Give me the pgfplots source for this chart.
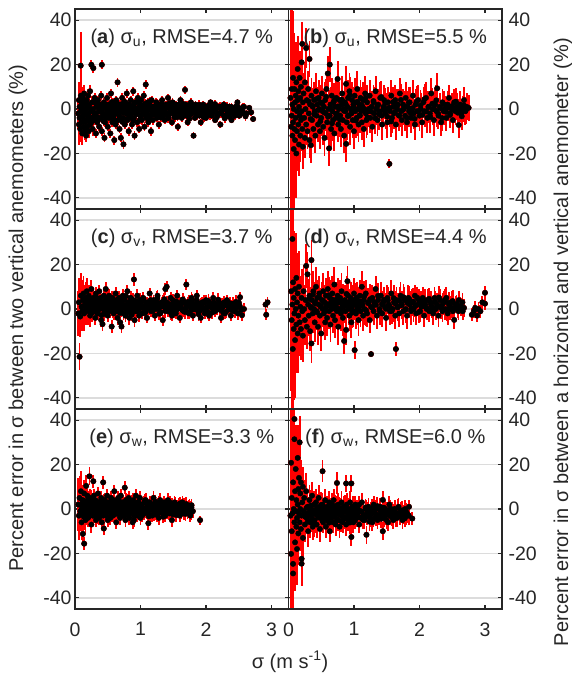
\documentclass[border=0pt]{standalone}
\usepackage{fontspec}
\setmainfont{Liberation Sans}
\setsansfont{Liberation Sans}
\usepackage{pgfplots}
\usepackage{pgfplotstable}
\pgfplotsset{compat=1.18}
\definecolor{frame}{RGB}{38,38,38}
\definecolor{gridc}{RGB}{220,220,220}
\newcommand{\fs}{\fontsize{20}{24}\selectfont}
\newcommand{\ft}{\fontsize{19.5}{23}\selectfont}

\pgfplotstableread[row sep=\\]{x y e\\
0.05 -2 7\\ 0.06 4 8\\ 0.06 -7 9\\ 0.07 1 8\\ 0.07 -4 7\\ 0.08 -9 6\\ 0.087 19.5 15\\ 0.09 6 6\\ 0.09 -1 6\\ 0.10 -6 5\\
0.10 3 6\\ 0.11 -11 5\\ 0.11 0 5\\ 0.12 -3 5\\ 0.12 5 5\\ 0.13 -8 4\\ 0.13 2 4\\ 0.14 -5 4\\ 0.14 7 4\\ 0.15 -1 4\\
0.15 -10 4\\ 0.16 3 4\\ 0.16 -6 4\\ 0.17 0 3\\ 0.17 -12 3\\ 0.18 4 3\\ 0.18 -3 3\\ 0.19 -8 3\\ 0.19 1 3\\ 0.20 -5 3\\
0.20 6 3\\ 0.21 -2 3\\ 0.21 -10 3\\ 0.22 2 3\\ 0.23 -7 3\\ 0.23 8 3\\ 0.24 -1 3\\ 0.25 19.9 2\\ 0.25 -4 3\\ 0.26 3 3\\
0.27 -9 3\\ 0.28 18.4 2\\ 0.28 0 3\\ 0.29 -5 2\\ 0.30 5 2\\ 0.31 -2 2\\ 0.32 -11 2\\ 0.33 1 2\\ 0.34 -6 2\\ 0.35 4 2\\
0.36 -1 2\\ 0.37 -8 2\\ 0.38 2 2\\ 0.39 -4 2\\ 0.40 6 2\\ 0.41 19.9 2\\ 0.41 -10 2\\ 0.42 0 2\\ 0.43 -3 2\\ 0.44 3 2\\
0.45 -13 2\\ 0.46 -6 2\\ 0.47 1 2\\ 0.48 -2 2\\ 0.49 5 2\\ 0.50 -8 2\\ 0.51 2 2\\ 0.52 -4 2\\ 0.53 0 2\\ 0.54 -11 2\\
0.55 7 2\\ 0.56 -1 2\\ 0.57 -6 2\\ 0.58 3 2\\ 0.59 -3 2\\ 0.60 -14 2\\ 0.61 1 2\\ 0.62 -7 2\\ 0.63 4 2\\ 0.64 -2 2\\
0.65 12 2\\ 0.66 -5 2\\ 0.67 0 2\\ 0.68 -9 2\\ 0.69 2 2\\ 0.70 -13 2\\ 0.71 -1 2\\ 0.72 5 2\\ 0.73 -4 2\\ 0.74 -15.9 2\\
0.75 1 2\\ 0.76 -7 2\\ 0.77 3 2\\ 0.78 -2 2\\ 0.79 7 2\\ 0.80 -5 2\\ 0.81 0 2\\ 0.82 -10 2\\ 0.83 2 2\\ 0.84 -3 2\\
0.85 4 2\\ 0.86 -1 2\\ 0.87 -7 2\\ 0.88 1 2\\ 0.89 8 2\\ 0.90 -4 2\\ 0.91 -12 2\\ 0.92 3 2\\ 0.93 -2 2\\ 0.94 0 2\\
0.95 -6 2\\ 0.96 5 2\\ 0.97 -1 2\\ 0.98 -9 2\\ 0.99 2 2\\ 1.00 -3 2\\ 1.01 4 2\\ 1.02 -5 2\\ 1.03 0 2\\ 1.04 -2 2\\
1.05 6 2\\ 1.06 -8 2\\ 1.07 1 2\\ 1.08 11 2\\ 1.09 -4 2\\ 1.10 -1 2\\ 1.11 3 2\\ 1.12 -6 2\\ 1.13 0 2\\ 1.14 2 2\\
1.15 -3 2\\ 1.16 -10 2\\ 1.17 4 2\\ 1.18 -1 2\\ 1.19 -5 2\\ 1.20 1 1.8\\ 1.22 -2 1.8\\ 1.24 3 1.8\\ 1.25 -4 1.8\\ 1.27 0 1.8\\
1.28 -7 1.8\\ 1.30 2 1.8\\ 1.31 -1 1.8\\ 1.33 4 1.8\\ 1.34 -3 1.8\\ 1.36 0 1.8\\ 1.37 -5 1.8\\ 1.39 2 1.8\\ 1.40 -2 1.8\\ 1.42 5 1.8\\
1.43 -4 1.8\\ 1.45 1 1.8\\ 1.46 -1 1.8\\ 1.48 -6 1.8\\ 1.49 3 1.8\\ 1.51 0 1.8\\ 1.52 -3 1.8\\ 1.54 2 1.8\\ 1.55 -1 1.8\\ 1.57 -8 1.8\\
1.58 1 1.8\\ 1.60 -2 1.8\\ 1.61 4 1.8\\ 1.63 -4 1.8\\ 1.64 0 1.8\\ 1.66 -1 1.8\\ 1.68 8.6 1.8\\ 1.69 2 1.8\\ 1.71 -3 1.8\\ 1.72 -6 1.8\\
1.74 1 1.8\\ 1.75 -1 1.8\\ 1.77 3 1.8\\ 1.78 -2 1.8\\ 1.80 0 1.8\\ 1.81 -12 1.5\\ 1.83 -4 1.5\\ 1.84 2 1.5\\ 1.86 -1 1.5\\ 1.88 1 1.5\\
1.90 -3 1.5\\ 1.92 -6 1.5\\ 1.94 0 1.5\\ 1.96 2 1.5\\ 1.98 -2 1.5\\ 2.00 -4 1.5\\ 2.02 1 1.5\\ 2.05 -1 1.5\\ 2.07 3 1.5\\ 2.09 -3 1.5\\
2.12 0 1.5\\ 2.14 -5 1.5\\ 2.17 1 1.5\\ 2.19 -2 1.5\\ 2.22 -7 1.5\\ 2.24 0 1.5\\ 2.27 2 1.5\\ 2.30 -3 1.5\\ 2.33 -1 1.5\\ 2.36 1 1.5\\
2.39 -5 1.5\\ 2.42 -2 1.5\\ 2.45 0 1.5\\ 2.48 3 1.5\\ 2.51 -3 1.5\\ 2.55 -1 1.5\\ 2.58 1 1.5\\ 2.62 -2 1.5\\ 2.66 0.5 1.5\\ 2.69 -1.5 1.5\\
2.72 -4.5 1.5\\
}\tA
\pgfplotstableread[row sep=\\]{x y e\\
0.153 -2.5 4\\ 0.187 1.5 3\\ 0.234 -4.5 3\\ 0.262 -0.5 3\\ 0.318 2.5 2\\ 0.342 -3.5 2\\ 0.377 0.5 2\\ 0.403 -1.5 2\\ 0.436 -5.5 2\\ 0.458 2.2 2\\
0.489 -0.8 2\\ 0.517 -3.2 2\\ 0.546 1.2 2\\ 0.583 -4.2 2\\ 0.607 -0.2 2\\ 0.639 2.8 2\\ 0.672 -2.8 2\\ 0.698 0.8 2\\ 0.724 -5.8 2\\ 0.753 3.2 2\\
0.787 -1.2 2\\ 0.812 1.8 2\\ 0.846 -3.8 2\\ 0.873 -0.3 2\\ 0.905 2.4 2\\ 0.937 -2.4 2\\ 0.968 0.6 2\\ 0.995 -4.6 2\\ 1.027 1.6 2\\ 1.053 -1.6 2\\
1.085 -3.4 2\\ 1.118 0.4 2\\ 1.143 3.4 2\\ 1.176 -2.1 2\\ 1.207 -0.7 2\\ 1.236 1.1 2\\ 1.262 -3.1 2\\ 1.295 -1.3 2\\ 1.323 2.1 2\\ 1.356 -2.6 2\\
1.384 0.2 2\\ 1.417 -4.1 2\\ 1.445 2.6 2\\ 1.474 -0.6 2\\ 1.506 -2.2 2\\ 1.535 1.4 2\\ 1.566 -3.6 2\\ 1.594 0.9 2\\ 1.627 -1.1 2\\ 1.652 2.3 2\\
1.687 -2.7 2\\ 1.716 0.3 2\\ 1.746 -4.4 2\\ 1.773 1.3 2\\ 1.806 -1.4 2\\ 1.837 0.7 2\\ 1.868 -2.9 2\\ 1.897 1.9 2\\ 1.926 -0.9 2\\ 1.957 -3.3 2\\
1.986 0.1 2\\ 2.016 -1.8 2\\ 2.047 1.7 2\\ 2.078 -2.3 2\\ 2.106 -0.4 2\\ 2.138 2.2 2\\ 2.165 -3.7 2\\ 2.196 0.6 2\\ 2.228 -1.9 2\\ 2.257 -0.2 2\\
2.287 -4.2 2\\ 2.318 1.2 2\\ 2.348 -2.4 2\\ 2.377 0.4 2\\ 2.408 -1.2 2\\ 2.437 -3.1 2\\ 2.467 1.4 2\\ 2.497 -0.7 2\\ 2.528 -2.2 2\\ 2.566 0.8 2\\
2.604 -3.3 2\\
0.214 0.8 3\\ 0.248 -6.2 3\\ 0.296 -2.8 2\\ 0.327 3.6 2\\ 0.356 -4.8 2\\ 0.392 -0.6 2\\ 0.421 1.9 2\\ 0.449 -2.4 2\\ 0.474 -4.1 2\\ 0.503 0.3 2\\
0.532 -1.9 2\\ 0.561 3.1 2\\ 0.594 -5.1 2\\ 0.622 -1.3 2\\ 0.654 0.9 2\\ 0.683 -3.9 2\\ 0.712 2.1 2\\ 0.741 -1.7 2\\ 0.768 -0.1 2\\ 0.798 -4.3 2\\
0.829 1.4 2\\ 0.858 -2.1 2\\ 0.889 -5.3 2\\ 0.918 0.2 2\\ 0.949 -1.1 2\\ 0.981 3.3 2\\ 1.012 -2.9 2\\ 1.041 -0.4 2\\ 1.072 2.4 2\\ 1.099 -1.8 2\\
1.131 -4.4 2\\ 1.162 1.0 2\\ 1.193 -2.6 2\\ 1.223 -0.2 2\\ 1.251 2.7 2\\ 1.281 -1.6 2\\ 1.311 -3.9 2\\ 1.341 0.7 2\\ 1.371 -1.0 2\\ 1.401 1.8 2\\
1.431 -2.9 2\\ 1.461 -0.3 2\\ 1.491 1.2 2\\ 1.521 -3.8 2\\ 1.551 -0.8 2\\ 1.581 1.9 2\\ 1.611 -2.0 2\\ 1.641 -3.3 2\\ 1.671 0.6 2\\ 1.701 -1.6 2\\
1.731 1.6 2\\ 1.761 -2.4 2\\ 1.791 -0.5 2\\ 1.821 0.9 2\\ 1.851 -2.2 2\\ 1.881 -0.6 2\\ 1.911 1.0 2\\ 1.941 -1.9 2\\ 1.971 -3.8 2\\ 2.001 0.5 2\\
2.031 -1.2 2\\ 2.061 -2.8 2\\ 2.091 0.8 2\\ 2.121 -1.5 2\\ 2.151 -0.2 2\\ 2.181 -2.7 2\\ 2.211 1.1 2\\ 2.241 -0.9 2\\ 2.271 -2.9 2\\ 2.301 0.2 2\\
2.331 -1.6 2\\ 2.361 -3.6 2\\ 2.391 0.9 2\\ 2.421 -0.4 2\\ 2.451 -1.9 2\\ 2.481 1.1 2\\ 2.511 -1.1 2\\ 2.541 0.3 2\\ 2.581 -1.8 2\\
}\tAc

\pgfplotstableread[row sep=\\]{x y e\\
0.03 5 50\\ 0.04 -8 45\\ 0.05 9 40\\ 0.05 -3 42\\ 0.06 -12 35\\ 0.06 2 38\\ 0.07 14 30\\ 0.07 -6 32\\ 0.08 0 28\\ 0.08 -18 30\\
0.09 9 25\\ 0.09 -9 26\\ 0.10 3 22\\ 0.10 -14 24\\ 0.11 6 20\\ 0.11 -4 22\\ 0.12 -20 20\\ 0.12 12 18\\ 0.13 -1 17\\ 0.13 -10 18\\
0.14 4 16\\ 0.14 18 15\\ 0.15 -7 15\\ 0.15 8 14\\ 0.16 -16 14\\ 0.16 1 13\\ 0.17 -3 13\\ 0.17 14 12\\ 0.18 -12 12\\ 0.18 5 12\\
0.19 -5 11\\ 0.19 10 11\\ 0.20 21 11\\ 0.20 -1 10\\ 0.21 29.3 10\\ 0.21 -9 10\\ 0.22 3 10\\ 0.22 -17 10\\ 0.23 7 9\\ 0.24 -4 9\\
0.25 12 9\\ 0.25 -13 9\\ 0.26 0 9\\ 0.27 27.4 9\\ 0.27 -7 9\\ 0.28 4 8\\ 0.29 -10 8\\ 0.30 9 8\\ 0.31 -2 8\\ 0.32 22.5 8\\
0.32 -14 8\\ 0.33 2 8\\ 0.34 -16.3 8\\ 0.35 6 8\\ 0.36 -5 8\\ 0.37 1 8\\ 0.38 -9 8\\ 0.39 4 8\\ 0.40 -1 8\\ 0.41 -12 8\\
0.42 8 8\\ 0.43 -3 8\\ 0.44 2 8\\ 0.45 -7 8\\ 0.46 5 8\\ 0.47 0 8\\ 0.48 -10 8\\ 0.49 3 8\\ 0.50 -4 8\\ 0.51 7 8\\
0.52 -1 8\\ 0.53 -8 8\\ 0.54 1 8\\ 0.55 -13 8\\ 0.56 4 8\\ 0.57 -2 8\\ 0.58 9 8\\ 0.59 -6 8\\ 0.60 16 8\\ 0.61 0 8\\
0.62 -17.7 8\\ 0.63 20 8\\ 0.63 -3 8\\ 0.64 2 8\\ 0.65 -9 8\\ 0.66 6 8\\ 0.67 -1 8\\ 0.68 -5 8\\ 0.69 3 8\\ 0.70 -11 8\\
0.71 1 8\\ 0.72 -4 8\\ 0.73 5 8\\ 0.74 -2 8\\ 0.75 13.5 8\\ 0.76 -7 8\\ 0.77 0 8\\ 0.78 4 8\\ 0.79 -3 8\\ 0.80 -9 8\\
0.81 2 8\\ 0.82 7 8\\ 0.83 -5 8\\ 0.84 0 8\\ 0.85 -12 8\\ 0.86 3 8\\ 0.87 -1 8\\ 0.88 11.3 8\\ 0.88 -15.7 8\\ 0.89 -6 8\\
0.90 1 8\\ 0.91 5 8\\ 0.92 -3 8\\ 0.93 8 8\\ 0.94 -8 8\\ 0.95 0 8\\ 0.96 -2 8\\ 0.97 4 8\\ 0.98 -5 8\\ 0.99 2 8\\
1.00 -10 8\\ 1.01 6 8\\ 1.02 -1 8\\ 1.03 3 8\\ 1.04 -4 8\\ 1.05 9 8\\ 1.06 0 8\\ 1.07 -7 8\\ 1.08 2 8\\ 1.09 -3 8\\
1.10 5 8\\ 1.11 -1 8\\ 1.12 -6 8\\ 1.13 1 8\\ 1.14 4 8\\ 1.15 -9 8\\ 1.16 0 8\\ 1.17 7 8\\ 1.18 -2 8\\ 1.19 -5 8\\
1.20 3 8\\ 1.22 -1 7\\ 1.24 6 7\\ 1.25 -4 7\\ 1.27 1 7\\ 1.28 -8 7\\ 1.30 3 7\\ 1.31 -2 7\\ 1.33 8 7\\ 1.34 0 7\\
1.36 -5 7\\ 1.37 2 7\\ 1.39 -1 7\\ 1.40 5 7\\ 1.42 -3 7\\ 1.43 -7 7\\ 1.45 1 7\\ 1.46 4 7\\ 1.48 -2 7\\ 1.49 0 7\\
1.51 -6 7\\ 1.52 3 7\\ 1.54 -24.7 2\\ 1.55 -1 7\\ 1.57 6 7\\ 1.58 -4 7\\ 1.60 1 7\\ 1.61 -2 7\\ 1.63 4 7\\ 1.64 -7 7\\
1.66 0 7\\ 1.67 2 7\\ 1.69 -3 7\\ 1.70 7 7\\ 1.72 -1 7\\ 1.73 -5 7\\ 1.75 2 7\\ 1.76 0 7\\ 1.78 -3 7\\ 1.79 5 7\\
1.81 -6 7\\ 1.82 1 7\\ 1.84 -1 7\\ 1.85 3 7\\ 1.87 -4 7\\ 1.88 0 7\\ 1.90 6 7\\ 1.91 -2 7\\ 1.93 -7 7\\ 1.94 2 7\\
1.96 -1 7\\ 1.98 4 7\\ 2.00 -3 7\\ 2.02 0 7\\ 2.04 -6 7\\ 2.06 3 7\\ 2.08 -1 7\\ 2.10 5 7\\ 2.12 -4 7\\ 2.14 1 7\\
2.16 -2 7\\ 2.18 7 7\\ 2.20 0 7\\ 2.22 -5 7\\ 2.24 2 7\\ 2.26 -1 7\\ 2.27 9.3 7\\ 2.29 -3 6\\ 2.31 1 6\\ 2.33 -6 6\\
2.35 3 6\\ 2.37 -1 6\\ 2.39 0 6\\ 2.41 -4 6\\ 2.43 2 6\\ 2.45 5 6\\ 2.47 -2 6\\ 2.49 0 6\\ 2.51 -5 6\\ 2.53 3 6\\
2.55 -1 6\\ 2.57 1 6\\ 2.60 -7.2 6\\ 2.62 2 6\\ 2.64 -2 6\\ 2.66 0 6\\ 2.68 4 6\\ 2.70 -1 6\\ 2.72 1 6\\ 2.75 0.5 6\\
}\tB
\pgfplotstableread[row sep=\\]{x y e\\
0.305 3.5 8\\ 0.338 -4.5 8\\ 0.366 1.5 8\\ 0.395 -2.5 8\\ 0.428 4.5 8\\ 0.455 -0.5 8\\ 0.487 -5.5 8\\ 0.514 2.5 8\\ 0.545 -1.5 8\\ 0.575 5.5 8\\
0.604 -3.5 8\\ 0.636 0.5 8\\ 0.664 -6.5 8\\ 0.696 3.8 8\\ 0.725 -2.2 8\\ 0.757 1.2 8\\ 0.784 -4.8 8\\ 0.815 4.2 8\\ 0.846 -0.8 8\\ 0.874 2.2 8\\
0.906 -3.2 8\\ 0.937 6.2 8\\ 0.965 -1.8 8\\ 0.996 0.8 8\\ 1.026 -5.2 8\\ 1.055 3.2 8\\ 1.087 -2.8 8\\ 1.116 1.8 8\\ 1.147 -0.2 8\\ 1.176 4.8 8\\
1.207 -3.8 8\\ 1.236 0.2 8\\ 1.266 -1.2 7\\ 1.297 3.6 7\\ 1.326 -4.2 7\\ 1.357 1.4 7\\ 1.386 -2.4 7\\ 1.417 5.4 7\\ 1.446 -0.6 7\\ 1.477 2.6 7\\
1.507 -3.4 7\\ 1.536 0.6 7\\ 1.567 -5.6 7\\ 1.596 3.1 7\\ 1.627 -1.4 7\\ 1.656 1.9 7\\ 1.686 -2.9 7\\ 1.716 4.1 7\\ 1.746 -0.4 7\\ 1.776 1.1 7\\
1.806 -3.9 7\\ 1.836 2.9 7\\ 1.866 -1.9 7\\ 1.896 0.4 7\\ 1.926 -4.4 7\\ 1.956 3.4 7\\ 1.986 -0.9 7\\ 2.016 1.6 7\\ 2.046 -2.6 7\\ 2.076 4.4 7\\
2.106 -1.1 7\\ 2.136 0.9 7\\ 2.166 -3.6 7\\ 2.196 2.4 7\\ 2.226 -0.1 7\\ 2.256 3.9 7\\ 2.286 -2.1 7\\ 2.316 0.3 7\\ 2.346 -4.1 6\\ 2.376 2.1 6\\
2.406 -1.3 6\\ 2.436 0.7 6\\ 2.466 -2.7 6\\ 2.496 1.3 6\\ 2.526 -0.3 6\\ 2.556 3.3 6\\ 2.586 -1.7 6\\ 2.616 0.1 6\\ 2.646 -3.3 6\\ 2.676 1.7 6\\
2.706 -0.7 6\\
}\tBc

\pgfplotstableread[row sep=\\]{x y e\\
0.05 -2 10\\ 0.06 3 11\\ 0.07 -21.5 6\\ 0.08 -3.4 9\\ 0.09 6 10\\ 0.10 1 10\\ 0.11 -1 9\\ 0.12 4 9\\ 0.13 7 8\\ 0.14 -2 8\\
0.15 2 8\\ 0.16 5 7\\ 0.17 0 7\\ 0.18 8 6\\ 0.19 3 6\\ 0.20 -1 6\\ 0.21 6 5\\ 0.22 1 5\\ 0.23 -3 5\\ 0.24 4 4\\
0.25 9 4\\ 0.26 2 4\\ 0.27 -1 4\\ 0.28 5 3\\ 0.29 0 3\\ 0.30 3 3\\ 0.31 -4 3\\ 0.32 7 3\\ 0.33 1 3\\ 0.34 4 3\\
0.35 -2 3\\ 0.36 2 3\\ 0.37 8 3\\ 0.38 0 3\\ 0.39 5 3\\ 0.40 -5 3\\ 0.41 3 3\\ 0.42 -6.8 3\\ 0.43 1 3\\ 0.44 6 3\\
0.45 -1 3\\ 0.46 3 3\\ 0.47 9 3\\ 0.48 0 3\\ 0.49 4 3\\ 0.50 -3 3\\ 0.51 2 3\\ 0.52 6 3\\ 0.53 -1 3\\ 0.54 3 3\\
0.55 0 3\\ 0.56 -7.9 3\\ 0.57 5 3\\ 0.58 1 3\\ 0.59 -2 3\\ 0.60 4 3\\ 0.61 2 3\\ 0.62 7 3\\ 0.63 -1 3\\ 0.64 3 3\\
0.65 -4 3\\ 0.66 1 3\\ 0.67 5 3\\ 0.68 0 3\\ 0.69 -6 3\\ 0.70 3 3\\ 0.71 -7.9 3\\ 0.72 2 3\\ 0.73 6 3\\ 0.74 -2 3\\
0.75 1 3\\ 0.76 4 3\\ 0.77 -3 3\\ 0.78 0 3\\ 0.79 2 3\\ 0.80 8 3\\ 0.81 -1 3\\ 0.82 3 3\\ 0.83 -4 3\\ 0.84 1 3\\
0.85 5 3\\ 0.86 -2 3\\ 0.87 2 3\\ 0.88 0 3\\ 0.89 4 3\\ 0.90 13.3 3\\ 0.91 -5 3\\ 0.92 1 3\\ 0.93 3 3\\ 0.94 -1 3\\
0.95 6 3\\ 0.96 0 3\\ 0.97 2 3\\ 0.98 -3 3\\ 0.99 4 3\\ 1.00 1 3\\ 1.02 -2 2.5\\ 1.04 5 2.5\\ 1.06 0 2.5\\ 1.08 3 2.5\\
1.10 -4 2.5\\ 1.12 2 2.5\\ 1.14 7 2.5\\ 1.16 -1 2.5\\ 1.18 1 2.5\\ 1.20 4 2.5\\ 1.22 -3 2.5\\ 1.24 0 2.5\\ 1.26 6 2.5\\ 1.28 2 2.5\\
1.30 -2 2.5\\ 1.32 3 2.5\\ 1.34 -5 2.5\\ 1.36 1 2.5\\ 1.38 9 2.5\\ 1.40 10 2.5\\ 1.42 -1 2.5\\ 1.44 2 2.5\\ 1.46 5 2.5\\ 1.48 -3 2.5\\
1.50 0 2.5\\ 1.52 3 2.5\\ 1.54 -2 2.5\\ 1.56 6 2.5\\ 1.58 1 2.5\\ 1.60 -4 2.5\\ 1.62 2 2.5\\ 1.64 4 2.5\\ 1.66 -1 2.5\\ 1.68 0 2.5\\
1.70 11 2.5\\ 1.72 3 2.5\\ 1.74 -2 2.5\\ 1.76 1 2.5\\ 1.78 5 2.5\\ 1.80 -3 2.5\\ 1.82 0 2.5\\ 1.84 2 2.5\\ 1.86 6 2.5\\ 1.88 -1 2.5\\
1.90 1 2.5\\ 1.92 -4 2.5\\ 1.94 3 2.5\\ 1.96 0 2.5\\ 1.98 -2 2.5\\ 2.00 4 2.5\\ 2.02 1 2.5\\ 2.05 -3 2.5\\ 2.08 2 2.5\\ 2.11 5 2.5\\
2.14 -1 2.5\\ 2.17 0 2.5\\ 2.20 3 2.5\\ 2.23 -4 2.5\\ 2.26 1 2.5\\ 2.29 -2 2.5\\ 2.32 4 2.5\\ 2.35 0 2.5\\ 2.38 -3 2.5\\ 2.41 2 2.5\\
2.44 -1 2.5\\ 2.47 1 2.5\\ 2.50 3 2.5\\ 2.52 5.3 2.5\\ 2.55 -2.8 2.5\\ 2.58 0 2.5\\ 2.91 2 2.5\\ 2.92 -2.6 2.5\\ 2.94 3 2.5\\
}\tC
\pgfplotstableread[row sep=\\]{x y e\\
0.205 2.5 5\\ 0.236 -0.5 4\\ 0.265 3.5 4\\ 0.296 1.5 3\\ 0.327 -1.5 3\\ 0.356 4.5 3\\ 0.386 0.5 3\\ 0.415 2.8 3\\ 0.447 -2.2 3\\ 0.476 1.2 3\\
0.506 5.2 3\\ 0.535 0.2 3\\ 0.566 3.2 3\\ 0.597 -0.8 3\\ 0.626 1.8 3\\ 0.657 4.2 3\\ 0.686 -1.8 3\\ 0.717 2.2 3\\ 0.746 0.8 3\\ 0.777 5.8 3\\
0.806 -0.2 3\\ 0.837 2.6 3\\ 0.866 -2.6 3\\ 0.897 1.4 3\\ 0.926 3.6 3\\ 0.957 -0.6 3\\ 0.987 2.4 3\\ 1.017 0.6 3\\ 1.046 4.6 3\\ 1.077 -1.4 3\\
1.106 1.6 3\\ 1.137 3.4 3\\ 1.166 -0.4 3\\ 1.197 2.1 3\\ 1.227 0.9 3\\ 1.257 4.9 3\\ 1.287 -2.1 3\\ 1.317 1.1 3\\ 1.347 3.1 3\\ 1.377 -0.9 3\\
1.407 2.9 3\\ 1.437 0.1 3\\ 1.467 -1.9 3\\ 1.497 3.9 3\\ 1.527 1.3 3\\ 1.557 -0.3 3\\ 1.587 2.7 3\\ 1.617 0.7 3\\ 1.647 4.3 3\\ 1.677 -1.3 3\\
1.707 1.7 3\\ 1.737 3.3 3\\ 1.767 -0.7 3\\ 1.797 2.3 3\\ 1.827 0.3 3\\ 1.857 4.1 3\\ 1.887 -2.3 3\\ 1.917 1.9 3\\ 1.947 0.4 3\\ 1.977 2.8 3\\
2.007 -0.8 3\\ 2.037 3.6 3\\ 2.067 1.0 3\\ 2.097 -1.6 3\\ 2.127 2.2 3\\ 2.157 0.2 3\\ 2.187 4.2 3\\ 2.217 -0.4 3\\ 2.247 1.8 3\\ 2.277 3.0 3\\
2.307 -1.2 3\\ 2.337 1.4 3\\ 2.367 2.6 3\\ 2.397 -0.6 3\\ 2.427 0.8 3\\ 2.457 3.2 3\\ 2.487 -2.0 3\\ 2.517 1.2 3\\
0.155 3.8 7\\ 0.196 0.4 5\\ 0.226 4.4 5\\ 0.255 -1.8 4\\ 0.285 2.2 3\\ 0.316 5.6 3\\ 0.345 -0.2 3\\ 0.375 2.6 3\\ 0.404 -2.8 3\\ 0.435 1.6 3\\
0.465 4.0 3\\ 0.494 -0.6 3\\ 0.525 3.0 3\\ 0.555 1.0 3\\ 0.585 -1.2 3\\ 0.615 3.8 3\\ 0.645 0.2 3\\ 0.675 2.4 3\\ 0.705 -0.4 3\\ 0.735 4.2 3\\
0.765 1.2 3\\ 0.795 -1.6 3\\ 0.825 2.0 3\\ 0.855 4.8 3\\ 0.885 0.6 3\\ 0.915 -1.0 3\\ 0.945 2.8 3\\ 0.975 0.0 3\\ 1.005 3.4 3\\ 1.035 1.4 3\\
1.065 -1.8 3\\ 1.095 2.6 3\\ 1.125 0.4 3\\ 1.155 4.0 3\\ 1.185 -0.8 3\\ 1.215 1.8 3\\ 1.245 3.2 3\\ 1.275 0.2 3\\ 1.305 -1.4 3\\ 1.335 2.4 3\\
1.365 4.4 3\\ 1.395 0.8 3\\ 1.425 -0.6 3\\ 1.455 2.0 3\\ 1.485 1.0 3\\ 1.515 -1.2 3\\ 1.545 3.4 3\\ 1.575 0.4 3\\ 1.605 2.2 3\\ 1.635 -0.4 3\\
1.665 3.0 3\\ 1.695 0.6 3\\ 1.725 -1.6 3\\ 1.755 2.0 3\\ 1.785 3.6 3\\ 1.815 -0.2 3\\ 1.845 1.2 3\\ 1.875 2.8 3\\ 1.905 -0.8 3\\ 1.935 1.6 3\\
1.965 3.2 3\\ 1.995 0.2 3\\ 2.025 -1.4 3\\ 2.055 2.4 3\\ 2.085 0.6 3\\ 2.115 3.0 3\\ 2.145 -0.6 3\\ 2.175 1.4 3\\ 2.205 2.6 3\\ 2.235 0.0 3\\
2.265 -1.8 3\\ 2.295 1.8 3\\ 2.325 3.4 3\\ 2.355 -0.2 3\\ 2.385 1.0 3\\ 2.415 2.4 3\\ 2.445 -1.0 3\\ 2.475 0.8 3\\ 2.505 2.0 3\\ 2.535 -0.4 3\\
}\tCc

\pgfplotstableread[row sep=\\]{x y e\\
0.04 8 45\\ 0.05 -5 42\\ 0.06 31.5 35\\ 0.06 2 40\\ 0.066 -18 30\\ 0.07 12 35\\ 0.08 -9 32\\ 0.08 5 30\\ 0.09 -2 28\\ 0.10 -14 26\\
0.10 9 25\\ 0.11 0 24\\ 0.12 -7 22\\ 0.12 14 20\\ 0.13 3 20\\ 0.14 -11 18\\ 0.14 7 18\\ 0.15 -3 17\\ 0.16 10 16\\ 0.17 -6 15\\
0.18 1 14\\ 0.19 -9 14\\ 0.20 5 13\\ 0.21 -1 12\\ 0.22 -12 12\\ 0.23 8 12\\ 0.24 0 11\\ 0.25 -5 11\\ 0.26 4 10\\ 0.27 19.4 10\\
0.28 -8 10\\ 0.29 15.6 10\\ 0.30 2 10\\ 0.31 -3 9\\ 0.32 6 9\\ 0.33 -10 9\\ 0.34 1 9\\ 0.35 22 9\\ 0.35 -15.5 9\\ 0.36 4 9\\
0.37 -2 9\\ 0.38 8 9\\ 0.39 0 9\\ 0.40 -6 9\\ 0.41 3 9\\ 0.42 10 9\\ 0.43 -1 8\\ 0.44 5 8\\ 0.45 -8 8\\ 0.46 2 8\\
0.47 7 8\\ 0.48 -3 8\\ 0.49 1 8\\ 0.50 -11 8\\ 0.51 4 8\\ 0.52 0 8\\ 0.53 8 8\\ 0.54 -2 8\\ 0.55 3 8\\ 0.56 -6 8\\
0.57 6 8\\ 0.58 1 8\\ 0.59 -4 8\\ 0.60 9 8\\ 0.61 2 8\\ 0.62 -1 8\\ 0.63 5 8\\ 0.64 -7 8\\ 0.65 3 8\\ 0.66 0 8\\
0.67 7 8\\ 0.68 -3 8\\ 0.69 2 8\\ 0.70 11 8\\ 0.71 -5 8\\ 0.72 4 8\\ 0.73 1 8\\ 0.74 -1 8\\ 0.75 6 8\\ 0.76 -8 8\\
0.77 3 8\\ 0.78 0 8\\ 0.79 5 8\\ 0.80 -2 8\\ 0.81 8 8\\ 0.82 2 8\\ 0.83 -4 8\\ 0.84 1 8\\ 0.85 -14.4 6\\ 0.86 4 7\\
0.87 -1 7\\ 0.88 -9.4 7\\ 0.89 3 7\\ 0.90 12.5 7\\ 0.91 6 7\\ 0.92 0 7\\ 0.93 -3 7\\ 0.94 2 7\\ 0.95 5 7\\ 0.96 -6 7\\
0.97 1 7\\ 0.98 4 7\\ 0.99 -1 7\\ 1.00 7 7\\ 1.01 -18.5 4\\ 1.02 2 7\\ 1.03 -2 7\\ 1.04 5 7\\ 1.05 0 7\\ 1.06 3 7\\
1.07 -5 7\\ 1.08 1 7\\ 1.09 6 7\\ 1.10 -1 7\\ 1.12 10 7\\ 1.13 2 7\\ 1.14 -3 7\\ 1.15 4 7\\ 1.16 0 7\\ 1.18 7 6\\
1.20 -2 6\\ 1.22 3 6\\ 1.24 -5 6\\ 1.26 -20.3 1.5\\ 1.26 1 6\\ 1.28 5 6\\ 1.30 -1 6\\ 1.32 2 6\\ 1.33 9 6\\ 1.35 -3 6\\
1.37 4 6\\ 1.39 0 6\\ 1.41 6 6\\ 1.43 -2 6\\ 1.45 3 6\\ 1.47 1 6\\ 1.49 -4 6\\ 1.51 5 6\\ 1.53 2 6\\ 1.55 -1 6\\
1.57 7 6\\ 1.59 0 6\\ 1.61 3 6\\ 1.63 -3 6\\ 1.64 -18 3\\ 1.65 4 6\\ 1.67 1 6\\ 1.69 -2 6\\ 1.71 6 6\\ 1.73 2 6\\
1.75 -1 6\\ 1.77 4 6\\ 1.79 0 6\\ 1.81 -3 6\\ 1.83 5 6\\ 1.85 2 6\\ 1.87 -1 6\\ 1.89 3 6\\ 1.91 0 6\\ 1.93 6 5\\
1.95 -2 5\\ 1.97 2 5\\ 1.99 4 5\\ 2.01 -1 5\\ 2.03 1 5\\ 2.05 5 5\\ 2.07 -3 5\\ 2.09 2 5\\ 2.11 0 5\\ 2.13 4 5\\
2.15 -1 5\\ 2.17 3 5\\ 2.19 1 5\\ 2.21 -2 5\\ 2.23 5 5\\ 2.25 0 5\\ 2.27 2 5\\ 2.29 -3 5\\ 2.31 4 5\\ 2.33 1 5\\
2.35 -1 5\\ 2.37 3 5\\ 2.39 0 5\\ 2.41 5 5\\ 2.43 -2 5\\ 2.45 2 5\\ 2.47 0 5\\ 2.49 3 5\\ 2.51 -1 5\\ 2.53 -4.9 4\\
2.55 2 4\\ 2.58 0 4\\ 2.60 4 4\\ 2.63 1 4\\ 2.66 -1 4\\ 2.68 0.5 4\\ 2.80 -2.6 3\\ 2.83 -1 3\\ 2.85 0.5 3\\ 2.88 -3 3\\
2.90 0 3\\ 2.93 -1 3\\ 2.96 3 3\\ 3.00 2.4 3\\ 3.00 7.3 3\\
}\tD
\pgfplotstableread[row sep=\\]{x y e\\
0.315 4.5 9\\ 0.345 0.5 9\\ 0.374 6.5 9\\ 0.405 2.5 9\\ 0.436 -1.5 8\\ 0.466 5.5 8\\ 0.495 1.5 8\\ 0.526 3.8 8\\ 0.555 -0.8 8\\ 0.586 2.2 8\\
0.615 6.2 8\\ 0.646 1.2 8\\ 0.675 4.2 8\\ 0.706 0.2 8\\ 0.736 2.8 8\\ 0.765 5.2 8\\ 0.796 -0.2 8\\ 0.826 3.2 8\\ 0.855 1.8 8\\ 0.886 6.8 8\\
0.915 0.8 7\\ 0.946 3.6 7\\ 0.975 -1.6 7\\ 1.006 2.4 7\\ 1.036 4.6 7\\ 1.066 0.4 7\\ 1.096 3.4 7\\ 1.126 1.6 7\\ 1.156 5.6 7\\ 1.186 -0.6 7\\
1.216 2.6 7\\ 1.246 4.4 7\\ 1.276 0.6 6\\ 1.306 3.1 6\\ 1.336 1.9 6\\ 1.366 5.9 6\\ 1.396 -1.1 6\\ 1.426 2.1 6\\ 1.456 4.1 6\\ 1.486 0.1 6\\
1.516 3.9 6\\ 1.546 1.1 6\\ 1.576 -0.9 6\\ 1.606 4.9 6\\ 1.636 2.3 6\\ 1.666 0.7 6\\ 1.696 3.7 6\\ 1.726 1.7 6\\ 1.756 5.3 6\\ 1.786 -0.3 6\\
1.816 2.7 6\\ 1.846 4.3 6\\ 1.876 0.3 6\\ 1.906 3.3 6\\ 1.936 1.3 5\\ 1.966 5.1 5\\ 1.996 -1.3 5\\ 2.026 2.9 5\\ 2.056 1.4 5\\ 2.086 3.8 5\\
2.116 0.2 5\\ 2.146 4.6 5\\ 2.176 2.0 5\\ 2.206 -0.6 5\\ 2.236 3.2 5\\ 2.266 1.2 5\\ 2.296 5.2 5\\ 2.326 0.6 5\\ 2.356 2.4 5\\ 2.386 4.0 5\\
2.416 -0.2 5\\ 2.446 2.8 5\\ 2.476 1.0 5\\ 2.506 3.6 5\\ 2.536 0.4 4\\ 2.566 2.2 4\\ 2.596 -1.0 4\\ 2.626 1.6 4\\ 2.656 3.0 4\\
}\tDc

\pgfplotstableread[row sep=\\]{x y e\\
0.05 2 12\\ 0.06 -3 11\\ 0.07 5 10\\ 0.08 -1 9\\ 0.09 8 9\\ 0.10 -6 8\\ 0.11 1 8\\ 0.12 -11.2 5\\ 0.12 4 7\\ 0.13 -2 7\\
0.14 -15.6 3\\ 0.14 7 6\\ 0.15 0 6\\ 0.16 -5 6\\ 0.17 10.4 5\\ 0.17 3 5\\ 0.18 -1 5\\ 0.19 6 5\\ 0.20 -4 4\\ 0.21 2 4\\
0.22 14.7 4\\ 0.22 -2 4\\ 0.23 5 4\\ 0.24 0 4\\ 0.25 -7 4\\ 0.26 3 4\\ 0.27 -3 4\\ 0.28 12.5 3\\ 0.28 1 3\\ 0.29 6 3\\
0.30 -1 3\\ 0.31 4 3\\ 0.32 -5 3\\ 0.33 2 3\\ 0.34 -2 3\\ 0.35 7 3\\ 0.36 0 3\\ 0.37 -4 3\\ 0.38 3 3\\ 0.39 -1 3\\
0.40 5 3\\ 0.41 -6 3\\ 0.42 1 3\\ 0.43 12 3\\ 0.43 -3 3\\ 0.44 -8.8 3\\ 0.45 4 3\\ 0.46 0 3\\ 0.47 2 3\\ 0.48 -2 3\\
0.49 6 3\\ 0.50 -5 3\\ 0.51 1 3\\ 0.52 3 3\\ 0.53 -1 3\\ 0.54 -4 3\\ 0.55 5 3\\ 0.56 0 3\\ 0.57 2 3\\ 0.58 -3 3\\
0.59 4 3\\ 0.60 8 3\\ 0.61 -1 3\\ 0.62 1 3\\ 0.63 -6 3\\ 0.64 3 3\\ 0.65 0 3\\ 0.66 5 3\\ 0.67 -2 3\\ 0.68 2 3\\
0.69 -4 3\\ 0.70 6 3\\ 0.71 0 3\\ 0.72 -1 3\\ 0.73 3 3\\ 0.74 -3 3\\ 0.75 1 3\\ 0.76 9.6 3\\ 0.77 -5 3\\ 0.78 4 3\\
0.79 0 3\\ 0.80 2 3\\ 0.81 -2 3\\ 0.82 5 3\\ 0.83 -4 3\\ 0.84 1 3\\ 0.85 -1 3\\ 0.86 3 3\\ 0.87 0 3\\ 0.88 -6 3\\
0.89 4 3\\ 0.90 -5 3\\ 0.91 2 3\\ 0.92 -2 3\\ 0.93 6 3\\ 0.94 0 3\\ 0.95 -3 3\\ 0.96 3 3\\ 0.97 1 3\\ 0.98 -1 3\\
0.99 5 3\\ 1.00 -4 3\\ 1.02 2 3\\ 1.04 0 3\\ 1.06 -2 3\\ 1.08 4 3\\ 1.10 -1 3\\ 1.12 -6.4 3\\ 1.14 3 3\\ 1.16 1 3\\
1.18 -3 3\\ 1.20 5 3\\ 1.22 0 3\\ 1.24 -2 3\\ 1.26 2 3\\ 1.28 -4 3\\ 1.30 4 3\\ 1.32 1 3\\ 1.34 -1 3\\ 1.36 3 3\\
1.38 -3 3\\ 1.40 0 3\\ 1.42 4 3\\ 1.44 -2 3\\ 1.46 2 3\\ 1.48 -5 3\\ 1.50 1 3\\ 1.52 3 3\\ 1.54 -1 3\\ 1.56 0 3\\
1.58 2 3\\ 1.60 -3 3\\ 1.62 1 3\\ 1.64 3 3\\ 1.66 -2 3\\ 1.68 0 3\\ 1.70 2 3\\ 1.72 -1 3\\ 1.74 1 3\\ 1.76 -3 3\\
1.78 1.7 3\\ 1.80 -1 3\\ 1.91 -5 2\\
}\tE
\pgfplotstableread[row sep=\\]{x y e\\
0.105 1.5 7\\ 0.126 -2.5 6\\ 0.145 3.5 6\\ 0.166 -0.5 5\\ 0.186 2.5 5\\ 0.207 -3.5 4\\ 0.226 0.5 4\\ 0.247 4.5 4\\ 0.266 -1.5 4\\ 0.287 2.2 3\\
0.306 -3.2 3\\ 0.327 0.8 3\\ 0.346 3.2 3\\ 0.367 -1.2 3\\ 0.386 1.8 3\\ 0.407 -2.8 3\\ 0.426 0.2 3\\ 0.447 3.8 3\\ 0.466 -0.8 3\\ 0.487 1.2 3\\
0.506 -3.8 3\\ 0.527 2.6 3\\ 0.546 -1.6 3\\ 0.567 0.6 3\\ 0.586 3.4 3\\ 0.607 -2.4 3\\ 0.626 1.4 3\\ 0.647 -0.4 3\\ 0.666 4.4 3\\ 0.687 -3.4 3\\
0.706 1.6 3\\ 0.727 -0.6 3\\ 0.746 2.4 3\\ 0.767 -1.4 3\\ 0.786 0.4 3\\ 0.807 3.6 3\\ 0.826 -2.6 3\\ 0.847 1.1 3\\ 0.866 -0.9 3\\ 0.887 2.9 3\\
0.906 -3.1 3\\ 0.927 0.9 3\\ 0.946 -1.9 3\\ 0.967 3.1 3\\ 0.986 -0.1 3\\ 1.007 1.9 3\\ 1.027 -2.9 3\\ 1.047 0.1 3\\ 1.067 3.9 3\\ 1.087 -1.1 3\\
1.107 1.3 3\\ 1.127 -3.3 3\\ 1.147 2.3 3\\ 1.167 -0.3 3\\ 1.187 1.7 3\\ 1.207 -2.3 3\\ 1.227 3.3 3\\ 1.247 0.7 3\\ 1.267 -1.7 3\\ 1.287 2.7 3\\
1.307 -0.7 3\\ 1.327 1.5 3\\ 1.347 -3.5 3\\ 1.367 0.3 3\\ 1.387 2.1 3\\ 1.407 -1.3 3\\ 1.427 0.9 3\\ 1.447 3.0 3\\ 1.467 -2.0 3\\ 1.487 0.5 3\\
1.507 -0.9 3\\ 1.527 2.4 3\\ 1.547 -2.7 3\\ 1.567 1.1 3\\ 1.587 -0.5 3\\ 1.607 2.6 3\\ 1.627 -1.5 3\\ 1.647 0.2 3\\ 1.667 1.8 3\\ 1.687 -2.2 3\\
1.707 0.6 3\\ 1.727 -0.8 3\\ 1.747 1.6 3\\ 1.767 -1.8 3\\
0.098 -0.5 8\\ 0.116 3.0 7\\ 0.135 -3.5 6\\ 0.156 1.0 6\\ 0.176 -2.0 5\\ 0.196 4.0 4\\ 0.216 -0.8 4\\ 0.236 2.0 4\\ 0.256 -2.4 4\\ 0.276 3.6 3\\
0.296 0.2 3\\ 0.316 -2.2 3\\ 0.336 1.6 3\\ 0.356 -3.6 3\\ 0.376 2.8 3\\ 0.396 0.6 3\\ 0.416 -1.8 3\\ 0.436 2.2 3\\ 0.456 -2.6 3\\ 0.476 0.0 3\\
0.496 3.0 3\\ 0.516 -1.0 3\\ 0.536 1.8 3\\ 0.556 -3.0 3\\ 0.576 0.8 3\\ 0.596 -0.6 3\\ 0.616 2.6 3\\ 0.636 -1.8 3\\ 0.656 0.4 3\\ 0.676 3.2 3\\
0.696 -2.2 3\\ 0.716 0.8 3\\ 0.736 -0.4 3\\ 0.756 1.8 3\\ 0.776 -2.8 3\\ 0.796 2.4 3\\ 0.816 -0.2 3\\ 0.836 1.2 3\\ 0.856 -1.8 3\\ 0.876 3.4 3\\
0.896 -0.6 3\\ 0.916 1.6 3\\ 0.936 -2.4 3\\ 0.956 0.6 3\\ 0.976 2.2 3\\ 0.996 -1.4 3\\ 1.017 0.8 3\\ 1.037 -2.0 3\\ 1.057 2.8 3\\ 1.077 0.2 3\\
1.097 -1.4 3\\ 1.117 1.6 3\\ 1.137 -0.4 3\\ 1.157 -2.6 3\\ 1.177 2.0 3\\ 1.197 0.4 3\\ 1.217 -1.0 3\\ 1.237 1.2 3\\ 1.257 -2.8 3\\ 1.277 0.6 3\\
1.297 2.4 3\\ 1.317 -1.6 3\\ 1.337 0.2 3\\ 1.357 1.8 3\\ 1.377 -2.2 3\\ 1.397 0.8 3\\ 1.417 -0.6 3\\ 1.437 1.4 3\\ 1.457 -1.4 3\\ 1.477 2.0 3\\
1.497 -2.4 3\\ 1.517 0.4 3\\ 1.537 1.0 3\\ 1.557 -1.2 3\\ 1.577 0.6 3\\ 1.597 -2.0 3\\ 1.617 1.6 3\\ 1.637 -0.8 3\\ 1.657 0.8 3\\ 1.677 -1.0 3\\
1.697 2.2 3\\ 1.717 -1.6 3\\ 1.737 0.2 3\\ 1.757 -0.4 3\\ 1.777 0.8 3\\
}\tEc

\pgfplotstableread[row sep=\\]{x y e\\
0.03 -3 45\\ 0.04 20.8 35\\ 0.04 -20.2 35\\ 0.05 5 40\\ 0.05 -10 38\\ 0.06 -2 35\\ 0.07 -24.7 30\\ 0.07 -29 30\\ 0.07 12 30\\ 0.08 0 28\\
0.09 40.5 25\\ 0.09 31.4 25\\ 0.09 -6 25\\ 0.10 8 22\\ 0.10 -15 22\\ 0.11 -1 20\\ 0.11 18 20\\ 0.12 -8 18\\ 0.12 4 18\\ 0.13 -4 16\\
0.13 -18 16\\ 0.14 23 15\\ 0.14 2 15\\ 0.15 -11 14\\ 0.15 9 14\\ 0.16 -2 13\\ 0.16 14 12\\ 0.17 30 12\\ 0.17 -6 12\\ 0.18 0 11\\
0.18 7 11\\ 0.19 -9 10\\ 0.19 12 10\\ 0.20 -22.4 10\\ 0.20 -24.6 10\\ 0.20 -3 10\\ 0.21 3 9\\ 0.22 -13 9\\ 0.22 10 9\\ 0.23 -1 8\\
0.24 5 8\\ 0.25 -7 8\\ 0.26 -2 8\\ 0.27 8 8\\ 0.28 -4 7\\ 0.29 1 7\\ 0.30 -10 7\\ 0.31 -2 7\\ 0.32 4 7\\ 0.33 -6 7\\
0.34 0 7\\ 0.35 -3 6\\ 0.36 6 6\\ 0.37 -8 6\\ 0.38 -1 6\\ 0.39 2 6\\ 0.40 -5 6\\ 0.41 -2 6\\ 0.42 3 6\\ 0.43 -7 6\\
0.44 0 6\\ 0.45 -3 6\\ 0.46 5 6\\ 0.47 -1 6\\ 0.48 -9 6\\ 0.49 1 6\\ 0.50 -4 6\\ 0.51 -2 6\\ 0.52 17 5\\ 0.52 2 5\\
0.53 -6 5\\ 0.54 0 5\\ 0.55 -3 5\\ 0.56 4 5\\ 0.57 -8 5\\ 0.58 -1 5\\ 0.59 1 5\\ 0.60 -5 5\\ 0.61 -2 5\\ 0.62 3 5\\
0.63 -10 5\\ 0.64 0 5\\ 0.65 -4 5\\ 0.66 2 5\\ 0.67 -1 5\\ 0.68 -6 5\\ 0.69 4 5\\ 0.70 -3 5\\ 0.71 0 5\\ 0.72 -7 5\\
0.73 1 5\\ 0.74 11.7 5\\ 0.74 -2 5\\ 0.75 -5 5\\ 0.76 2 5\\ 0.77 -1 5\\ 0.78 -8 5\\ 0.79 0 5\\ 0.80 -3 5\\ 0.81 3 5\\
0.82 -2 5\\ 0.83 -6 5\\ 0.84 1 5\\ 0.85 -4 5\\ 0.86 0 5\\ 0.87 -1 5\\ 0.88 11.5 4\\ 0.88 -7 5\\ 0.89 2 5\\ 0.90 -3 5\\
0.91 -5 5\\ 0.92 0 5\\ 0.93 -2 5\\ 0.94 3 5\\ 0.95 -4 5\\ 0.96 11.5 4\\ 0.96 -12.6 4\\ 0.97 -1 5\\ 0.98 1 5\\ 0.99 -6 5\\
1.00 -2 5\\ 1.02 2 4\\ 1.04 -4 4\\ 1.06 0 4\\ 1.08 -7 4\\ 1.10 -1 4\\ 1.12 3 4\\ 1.14 -3 4\\ 1.16 -5 4\\ 1.18 0 4\\
1.19 -11.6 4\\ 1.20 -2 4\\ 1.22 1 4\\ 1.24 -4 4\\ 1.26 -1 4\\ 1.28 -6 4\\ 1.30 2 4\\ 1.32 -2 4\\ 1.34 0 4\\ 1.36 -5 4\\
1.38 -3 4\\ 1.40 1 4\\ 1.42 -2 4\\ 1.44 4.1 4\\ 1.44 -10 4\\ 1.46 -4 4\\ 1.48 0 4\\ 1.50 -1 4\\ 1.52 -6 4\\ 1.54 2 4\\
1.56 -3 4\\ 1.58 -1 4\\ 1.60 -5 4\\ 1.62 0 4\\ 1.64 -2 4\\ 1.66 -4 4\\ 1.68 1 4\\ 1.70 -3 4\\ 1.72 -1 4\\ 1.74 -5 4\\
1.76 -2 4\\ 1.78 0 4\\ 1.80 -3 4\\ 1.84 1 3\\ 1.89 -4.3 3\\
}\tF
\pgfplotstableread[row sep=\\]{x y e\\
0.255 -3.5 8\\ 0.275 0.5 8\\ 0.296 -5.5 7\\ 0.316 -1.5 7\\ 0.337 1.5 7\\ 0.356 -4.5 6\\ 0.377 -0.5 6\\ 0.396 -6.5 6\\ 0.417 -2.5 6\\ 0.436 0.8 6\\
0.457 -3.8 6\\ 0.476 -1.2 6\\ 0.497 1.8 6\\ 0.516 -5.2 5\\ 0.537 -2.2 5\\ 0.556 0.2 5\\ 0.577 -4.2 5\\ 0.596 -0.8 5\\ 0.617 -6.2 5\\ 0.636 -2.8 5\\
0.657 0.6 5\\ 0.676 -3.6 5\\ 0.697 -1.6 5\\ 0.716 1.4 5\\ 0.737 -4.6 5\\ 0.756 -2.4 5\\ 0.777 0.4 5\\ 0.796 -5.4 5\\ 0.817 -1.4 5\\ 0.836 -3.4 5\\
0.857 1.1 5\\ 0.876 -4.1 5\\ 0.897 -0.9 5\\ 0.916 -2.9 5\\ 0.937 -6.1 5\\ 0.956 -1.9 5\\ 0.977 0.9 5\\ 0.996 -3.1 5\\ 1.017 -5.1 4\\ 1.037 -0.1 4\\
1.057 -2.1 4\\ 1.077 1.9 4\\ 1.097 -3.9 4\\ 1.117 -1.1 4\\ 1.137 -4.9 4\\ 1.157 -2.7 4\\ 1.177 0.7 4\\ 1.197 -3.3 4\\ 1.217 -0.7 4\\ 1.237 -5.7 4\\
1.257 -2.3 4\\ 1.277 0.3 4\\ 1.297 -4.3 4\\ 1.317 -1.7 4\\ 1.337 -3.7 4\\ 1.357 1.3 4\\ 1.377 -2.6 4\\ 1.397 -0.4 4\\ 1.417 -4.4 4\\ 1.437 -1.6 4\\
1.457 0.6 4\\ 1.477 -3.0 4\\ 1.497 -5.0 4\\ 1.517 -1.0 4\\ 1.537 -2.8 4\\ 1.557 0.2 4\\ 1.577 -3.8 4\\ 1.597 -1.8 4\\ 1.617 -0.2 4\\ 1.637 -4.0 4\\
1.657 -2.0 4\\ 1.677 0.4 4\\ 1.697 -3.2 4\\ 1.717 -1.4 4\\ 1.737 -0.6 4\\ 1.757 -2.6 4\\ 1.777 -4.2 4\\ 1.797 -1.2 4\\ 1.817 -2.2 4\\ 1.837 -3.0 4\\
}\tFc

\pgfplotsset{
  panel/.style={
    scale only axis, width=213.5pt, height=200pt,
    xmin=0, xmax=3.26, ymin=-45, ymax=45,
    xtick={0,1,2,3}, ytick={-40,-20,0,20,40},
    xtick pos=both, ytick pos=both,
    tick align=inside, major tick length=4pt,
    ymajorgrids, grid style={line width=1.6pt, gridc},
    axis line style={line width=1.4pt, frame},
    tick style={line width=1.2pt, frame},
    /pgf/number format/assume math mode=true,
    ticklabel style={font=\ft, text=black!85},
    xticklabel style={yshift=-10pt},
    anchor=north west,
  },
  bars/.style={red, line width=1.8pt, only marks, mark=none, forget plot,
    error bars/.cd, y dir=both, y explicit, error mark=none,
    error bar style={red, line width=1.8pt},
    draw error bar/.code 2 args={\draw[red, line width=1.8pt] ##1 -- ##2;}},
  dots/.style={only marks, mark=*, mark size=2.7pt, draw=black, fill=black, forget plot},
}
\newcommand{\panel}[3]{%
  \addplot[bars] table[x=x, y=y, y error=e] {#1};
  \addplot[bars] table[x=x, y=y, y error=e] {#2};
  \addplot[dots] table[x=x, y=y] {#1};
  \addplot[dots] table[x=x, y=y] {#2};
  \draw[line width=1.4pt, frame] (rel axis cs:0,0) rectangle (rel axis cs:1,1);
  \node[font=\fs, text=black!85, inner sep=0pt] at (rel axis cs:0.5,0.855) {#3};
}

\begin{document}
\begin{tikzpicture}
\path[use as bounding box] (0,0) rectangle (571pt,-677pt);

\begin{axis}[panel, at={(75pt,-9pt)}, xticklabels={}, yticklabel pos=left]
\panel{\tA}{\tAc}{(\textbf{a}) σ\textsubscript{u}, RMSE=4.7 \%}
\end{axis}
\begin{axis}[panel, at={(288.5pt,-9pt)}, xticklabels={}, yticklabel pos=right, yticklabel style={xshift=3pt}]
\panel{\tB}{\tBc}{(\textbf{b}) σ\textsubscript{u}, RMSE=5.5 \%}
\end{axis}
\begin{axis}[panel, at={(75pt,-209pt)}, xticklabels={}, yticklabel pos=left]
\panel{\tC}{\tCc}{(\textbf{c}) σ\textsubscript{v}, RMSE=3.7 \%}
\end{axis}
\begin{axis}[panel, at={(288.5pt,-209pt)}, xticklabels={}, yticklabel pos=right, yticklabel style={xshift=3pt}]
\panel{\tD}{\tDc}{(\textbf{d}) σ\textsubscript{v}, RMSE=4.4 \%}
\end{axis}
\begin{axis}[panel, at={(75pt,-409pt)}, xticklabel pos=bottom, yticklabel pos=left]
\panel{\tE}{\tEc}{(\textbf{e}) σ\textsubscript{w}, RMSE=3.3 \%}
\end{axis}
\begin{axis}[panel, at={(288.5pt,-409pt)}, xticklabel pos=bottom, yticklabel pos=right, yticklabel style={xshift=3pt}]
\panel{\tF}{\tFc}{(\textbf{f}) σ\textsubscript{w}, RMSE=6.0 \%}
\end{axis}

\node[font=\fs, rotate=90, text=black!85] at (18pt,-318pt) {Percent error in σ between two vertical anemometers (\%)};
\node[font=\fs, rotate=90, text=black!85] at (563pt,-342pt) {Percent error in σ between a horizontal and vertical anemometer (\%)};
\node[font=\fs, text=black!85] at (290pt,-662pt) {σ (m s\textsuperscript{-1})};
\end{tikzpicture}
\end{document}
